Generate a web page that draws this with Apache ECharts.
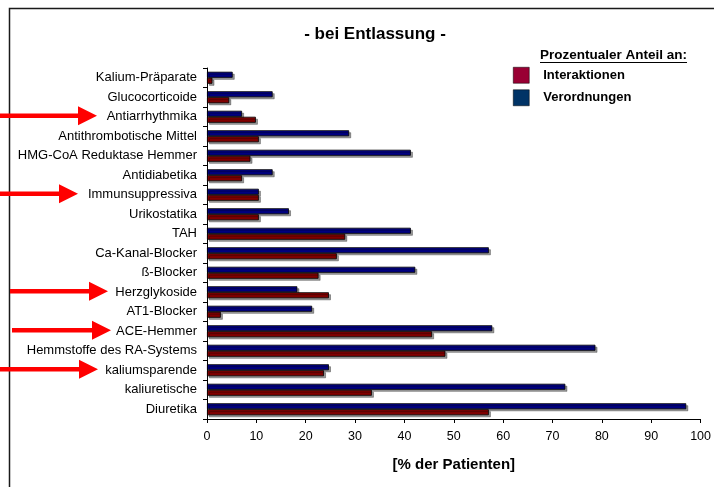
<!DOCTYPE html>
<html>
<head>
<meta charset="utf-8">
<script src="https://cdn.jsdelivr.net/npm/echarts@6/dist/echarts.min.js"></script>
<style>
  html, body { margin: 0; padding: 0; background: #fff; }
  #chart { width: 714px; height: 487px; }
</style>
</head>
<body>
<div id="chart"></div>
<script>
// Drug classes, listed top to bottom
const categories = [
  'Kalium-Präparate', 'Glucocorticoide', 'Antiarrhythmika', 'Antithrombotische Mittel',
  'HMG-CoA Reduktase Hemmer', 'Antidiabetika', 'Immunsuppressiva', 'Urikostatika', 'TAH',
  'Ca-Kanal-Blocker', 'ß-Blocker', 'Herzglykoside', 'AT1-Blocker', 'ACE-Hemmer',
  'Hemmstoffe des RA-Systems', 'kaliumsparende', 'kaliuretische', 'Diuretika'
];

// Share of patients [%] with prescriptions of the class
const verordnungen = [5.2, 13.3, 7.1, 28.8, 41.3, 13.3, 10.5, 16.6, 41.3, 57.1, 42.2, 18.3, 21.3, 57.8, 78.7, 24.7, 72.6, 97.1];
// Share of patients [%] with interactions involving the class
const interaktionen = [1.1, 4.5, 9.9, 10.5, 8.8, 7.1, 10.5, 10.5, 28.0, 26.3, 22.6, 24.7, 2.8, 45.6, 48.3, 23.7, 33.4, 57.1];

const xTicks = { min: 0, max: 100, interval: 10 };

// Classes highlighted with an arrow
const highlighted = ['Antiarrhythmika', 'Immunsuppressiva', 'Herzglykoside', 'ACE-Hemmer', 'kaliumsparende'];

const FONT = 'Arial, "Liberation Sans", sans-serif';

const chart = echarts.init(document.getElementById('chart'), null, { renderer: 'canvas' });

const barStyle = {
  borderColor: '#000',
  borderWidth: 0.8,
  shadowColor: 'rgba(0,0,0,0.4)',
  shadowBlur: 0,
  shadowOffsetX: 2,
  shadowOffsetY: 2
};

chart.setOption({
  animation: false,
  backgroundColor: '#fff',
  textStyle: { fontFamily: FONT },
  title: {
    text: '- bei Entlassung -',
    left: 370,
    top: 21,
    textAlign: 'center',
    textStyle: { fontFamily: FONT, fontSize: 17, fontWeight: 'bold', color: '#000' }
  },
  legend: {
    orient: 'vertical',
    left: 513,
    top: 67,
    padding: 0,
    itemWidth: 16,
    itemHeight: 16,
    itemGap: 6,
    icon: 'rect',
    selectedMode: false,
    data: [
      { name: 'Interaktionen', itemStyle: { color: '#990033', borderColor: '#000', borderWidth: 0.5 } },
      { name: 'Verordnungen', itemStyle: { color: '#003366', borderColor: '#000', borderWidth: 0.5 } }
    ],
    textStyle: { fontFamily: FONT, fontSize: 13, fontWeight: 'bold', color: '#000', padding: [2, 0, 0, 9] }
  },
  grid: { left: 207, right: 11, top: 68, bottom: 68, containLabel: false },
  xAxis: {
    type: 'value',
    min: xTicks.min,
    max: xTicks.max,
    interval: xTicks.interval,
    name: '[% der Patienten]',
    nameLocation: 'middle',
    nameGap: 38,
    nameTextStyle: { fontFamily: FONT, fontSize: 15, fontWeight: 'bold', color: '#000' },
    axisLine: { show: true, lineStyle: { color: '#000', width: 1 } },
    axisTick: { show: true, inside: false, length: 4, lineStyle: { color: '#000' } },
    axisLabel: { fontFamily: FONT, fontSize: 12.5, color: '#000', margin: 11 },
    splitLine: { show: false }
  },
  yAxis: {
    type: 'category',
    data: categories,
    inverse: true,
    axisLine: { show: true, lineStyle: { color: '#000', width: 1 } },
    axisTick: { show: true, inside: false, length: 4, alignWithLabel: false, lineStyle: { color: '#000' } },
    axisLabel: { fontFamily: FONT, fontSize: 13, color: '#000', margin: 10 },
    splitLine: { show: false }
  },
  series: [
    {
      name: 'Verordnungen',
      type: 'bar',
      data: verordnungen,
      barWidth: 6,
      barGap: '0%',
      itemStyle: Object.assign({ color: '#000080' }, barStyle)
    },
    {
      name: 'Interaktionen',
      type: 'bar',
      data: interaktionen,
      barWidth: 6,
      barGap: '0%',
      itemStyle: Object.assign({ color: '#800000' }, barStyle)
    }
  ]
});

// Red arrows pointing at the highlighted class labels, plus outer frame and legend heading
const arrowLayout = {
  'Antiarrhythmika': { from: 0, tip: 97 },
  'Immunsuppressiva': { from: 0, tip: 78 },
  'Herzglykoside': { from: 10, tip: 108 },
  'ACE-Hemmer': { from: 12, tip: 111 },
  'kaliumsparende': { from: 0, tip: 98 }
};

const HEADING = 'Prozentualer Anteil an:';
const HEADING_FONT = 'bold 13.5px ' + FONT;

const graphics = [
  {
    type: 'rect',
    shape: { x: 9.5, y: 8.5, width: 800, height: 800 },
    style: { fill: 'none', stroke: '#1a1a1a', lineWidth: 1.5 },
    silent: true
  },
  {
    type: 'text',
    left: 540,
    top: 48,
    style: { text: HEADING, font: HEADING_FONT, fill: '#000' }
  }
];

highlighted.forEach(function (cat) {
  const y = chart.convertToPixel({ yAxisIndex: 0 }, cat) - 1;
  const a = arrowLayout[cat];
  const headLen = 19, headHalf = 9.5, shaft = 2.2;
  graphics.push({
    type: 'polygon',
    silent: true,
    shape: {
      points: [
        [a.from, y - shaft], [a.tip - headLen, y - shaft], [a.tip - headLen, y - headHalf],
        [a.tip, y], [a.tip - headLen, y + headHalf], [a.tip - headLen, y + shaft], [a.from, y + shaft]
      ]
    },
    style: { fill: '#ff0000' }
  });
});

// Underline of the legend heading, sized to the rendered text width
const headingWidth = echarts.format.getTextRect
  ? echarts.format.getTextRect(HEADING, HEADING_FONT).width
  : 146;
graphics.push({
  type: 'line',
  silent: true,
  shape: { x1: 540, y1: 62.5, x2: 540 + headingWidth, y2: 62.5 },
  style: { stroke: '#000', lineWidth: 1 }
});
chart.setOption({ graphic: graphics });
</script>
</body>
</html>
